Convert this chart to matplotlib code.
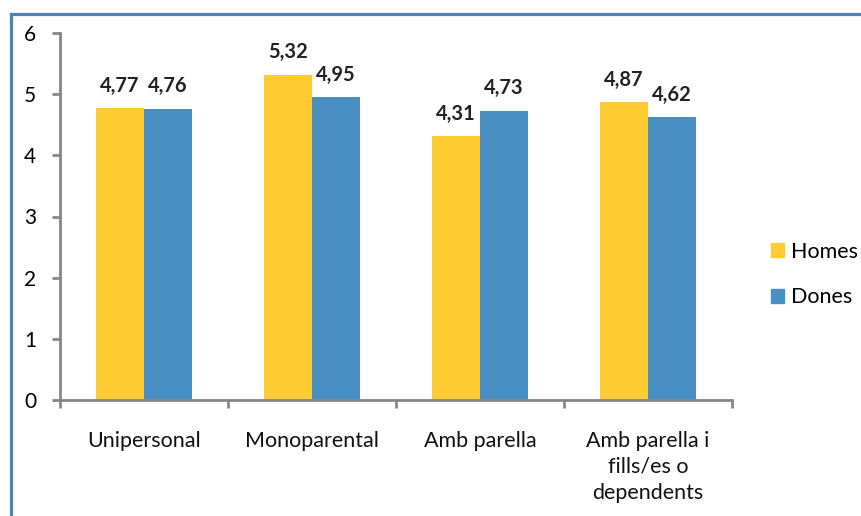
import numpy as np
import matplotlib.pyplot as plt
from matplotlib.lines import Line2D
from matplotlib.patches import Patch

plt.rcParams['font.family'] = ['Lato', 'DejaVu Sans']

# Data
categories = ['Unipersonal', 'Monoparental', 'Amb parella', 'Amb parella i\nfills/es o\ndependents']
homes = [4.77, 5.32, 4.31, 4.87]
dones = [4.76, 4.95, 4.73, 4.62]
labels_homes = ['4,77', '5,32', '4,31', '4,87']
labels_dones = ['4,76', '4,95', '4,73', '4,62']

c_homes = '#FFCC33'
c_dones = '#4A8FC2'
axis_grey = '#868686'

fig = plt.figure(figsize=(8.61, 5.16), dpi=100)
ax = fig.add_axes([60 / 861, 116 / 516, 672 / 861, 367 / 516])

x = np.arange(len(categories))
w = 0.2857
b1 = ax.bar(x - w / 2, homes, w, color=c_homes, label='Homes')
b2 = ax.bar(x + w / 2, dones, w, color=c_dones, label='Dones')

for bars, labs in [(b1, labels_homes), (b2, labels_dones)]:
    for bar, lab in zip(bars, labs):
        ax.annotate(lab, (bar.get_x() + bar.get_width() / 2, bar.get_height()),
                    textcoords='offset points', xytext=(0, 9), ha='center', va='bottom',
                    fontsize=14.5, fontweight='bold', color='#222222')

ax.set_ylim(0, 6)
ax.set_xlim(-0.5, len(categories) - 0.5)
ax.set_yticks(range(7))
ax.set_xticks(np.arange(len(categories) + 1) - 0.5)
ax.set_xticklabels([])
ax.tick_params(axis='x', length=6, width=2, color=axis_grey, direction='out')
ax.tick_params(axis='y', length=6, width=2, color=axis_grey, direction='out',
               labelsize=15, pad=11)
for i, cat in enumerate(categories):
    ax.text(i, -0.5, cat, ha='center', va='top', fontsize=15.5,
            linespacing=1.4, color='#111111')

for s in ['top', 'right']:
    ax.spines[s].set_visible(False)
for s in ['left', 'bottom']:
    ax.spines[s].set_color(axis_grey)
    ax.spines[s].set_linewidth(2)

handles = [Patch(color=c_homes), Patch(color=c_dones)]
fig.legend(handles, ['Homes', 'Dones'], loc='center left', bbox_to_anchor=(0.895, 0.468),
           frameon=False, fontsize=15.5, handlelength=0.6, handleheight=0.6,
           handletextpad=0.35, labelspacing=1.2, borderaxespad=0, borderpad=0)

# chart frame (left and top edges visible)
fig.add_artist(Line2D([10.5 / 861, 10.5 / 861], [0, 1 - 14 / 516], transform=fig.transFigure,
                      color='#4F81BD', lw=2.3))
fig.add_artist(Line2D([10.5 / 861, 1], [1 - 14 / 516, 1 - 14 / 516], transform=fig.transFigure,
                      color='#4F81BD', lw=2.3))

fig.savefig('out.png', dpi=100)
